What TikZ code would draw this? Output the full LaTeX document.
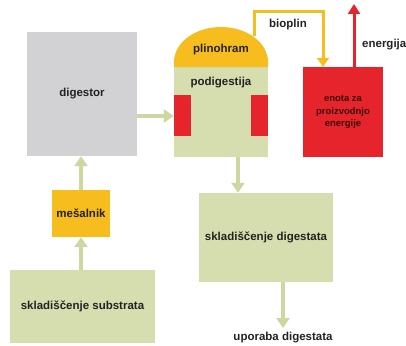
\documentclass[tikz,border=0pt]{standalone}
\usepackage{fontspec}
\setmainfont{Liberation Sans}
\usetikzlibrary{arrows.meta}
\definecolor{boxgreen}{RGB}{214,222,176}
\definecolor{arrgreen}{RGB}{204,216,160}
\definecolor{boxgray}{RGB}{210,210,212}
\definecolor{boxyellow}{RGB}{247,188,30}
\definecolor{boxred}{RGB}{230,36,44}
\definecolor{txt}{RGB}{34,34,34}
\tikzset{
  blk/.style={draw=none, inner sep=0pt, font=\fontsize{11.5}{13}\selectfont\bfseries, text=txt},
  flow/.style={draw=arrgreen, line width=3.5pt, -{Triangle[length=10pt,width=13pt]}},
  lbl/.style={inner sep=0pt, font=\fontsize{11.5}{13}\selectfont\bfseries, text=txt},
}
\begin{document}
\begin{tikzpicture}[x=1pt,y=-1pt]
\useasboundingbox (0,0) rectangle (406,345);
% boxes
\node[blk, fill=boxgray, minimum width=110pt, minimum height=124pt] (dig) at (82,94) {digestor};
\node[blk, fill=boxyellow, minimum width=58pt, minimum height=47pt] (mes) at (81,213.5) {mešalnik};
\node[blk, fill=boxgreen, minimum width=145pt, minimum height=73pt] (sub) at (82.5,306.5) {skladiščenje substrata};
\node[blk, fill=boxgreen, minimum width=94pt, minimum height=90pt] (tank) at (221,112) {};
\node[blk, fill=boxgreen, minimum width=134pt, minimum height=89pt] (sdig) at (266,237.5) {skladiščenje digestata};
\node[blk, fill=boxred, minimum width=80pt, minimum height=90pt, align=center,
      font=\fontsize{9.5}{12.5}\selectfont\bfseries, text={rgb,255:red,60;green,10;blue,10}] (enota) at (343,112) {enota za\\proizvodnjo\\energije};
% dome
\fill[boxyellow] (174,67) -- (174,62) arc[start angle=180, end angle=0, x radius=47pt, y radius=35pt] -- (268,67) -- cycle;
\node[lbl] (plin) at (221,50) {plinohram};
\node[lbl] (pod) at (221,83) {podigestija};
% heaters
\fill[boxred] (174,95) rectangle (191,136);
\fill[boxred] (251,95) rectangle (268,136);
% biogas pipe
\coordinate (p0) at (254,36);
\draw[boxyellow, line width=3pt, -{Triangle[length=9pt,width=12pt]}] (p0) -- (254,12) -- (323,12) -- (enota.north -| 323,0);
\node[lbl] (bio) at (288,25) {bioplin};
% energy arrow
\coordinate (etop) at (354,4);
\draw[boxred, line width=3pt, -{Triangle[length=10pt,width=12pt]}] (enota.north -| etop) -- (etop);
\node[lbl, anchor=west] (en) at (362,45) {energija};
% green flows
\draw[flow] (dig.east |- 0,116) -- (tank.west |- 0,116);
\draw[flow] (mes.north) -- (dig.south -| mes.north);
\draw[flow] (sub.north -| mes.south) -- (mes.south);
\draw[flow] (tank.south -| 238,0) -- (sdig.north -| 238,0);
\coordinate (usetop) at (283,328);
\draw[flow] (sdig.south -| usetop) -- (usetop);
\node[lbl] (use) at (283,338) {uporaba digestata};
\end{tikzpicture}
\end{document}
